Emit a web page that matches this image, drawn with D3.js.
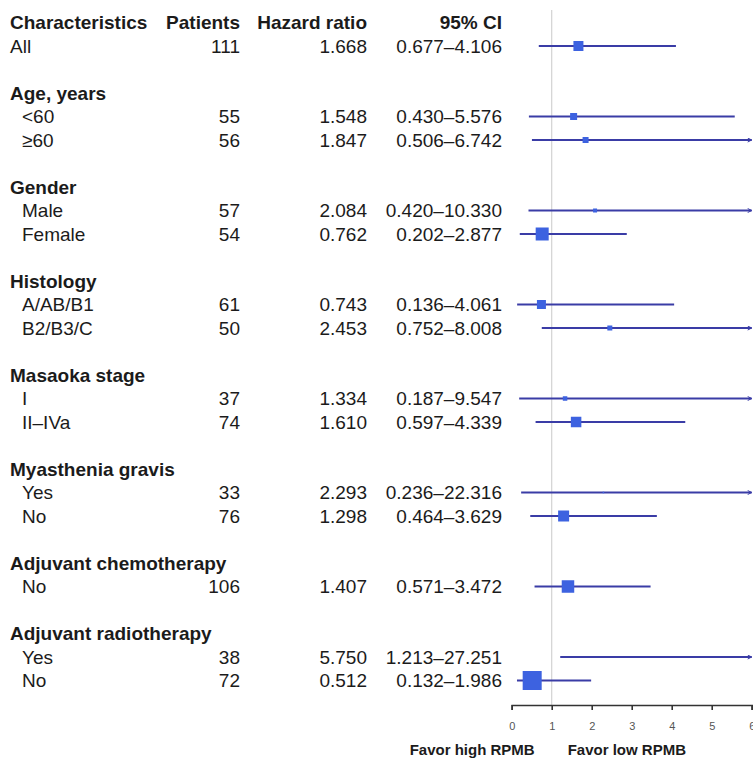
<!DOCTYPE html>
<html>
<head>
<meta charset="utf-8">
<script src="https://cdn.jsdelivr.net/npm/d3@7"></script>
<style>
  body { margin: 0; background: #fff; }
  svg { display: block; font-family: "Liberation Sans", Arial, Helvetica, sans-serif; }
</style>
</head>
<body>
<div id="chart"></div>
<script>
"use strict";

// column headers
const headers = ["Characteristics", "Patients", "Hazard ratio", "95% CI"];

// groups and their subgroups (empty group name = no header line)
const groups = ["", "Age, years", "Gender", "Histology", "Masaoka stage",
  "Myasthenia gravis", "Adjuvant chemotherapy", "Adjuvant radiotherapy"];
const subgroups = [["All"], ["<60", "≥60"], ["Male", "Female"], ["A/AB/B1", "B2/B3/C"],
  ["I", "II–IVa"], ["Yes", "No"], ["No"], ["Yes", "No"]];

// one value per subgroup, in the same order
const patients    = [111, 55, 56, 57, 54, 61, 50, 37, 74, 33, 76, 106, 38, 72];
const hazardRatio = [1.668, 1.548, 1.847, 2.084, 0.762, 0.743, 2.453, 1.334, 1.610, 2.293, 1.298, 1.407, 5.750, 0.512];
const ciLower     = [0.677, 0.430, 0.506, 0.420, 0.202, 0.136, 0.752, 0.187, 0.597, 0.236, 0.464, 0.571, 1.213, 0.132];
const ciUpper     = [4.106, 5.576, 6.742, 10.330, 2.877, 4.061, 8.008, 9.547, 4.339, 22.316, 3.629, 3.472, 27.251, 1.986];
// relative box weight
const weight      = [10, 7, 6, 4, 13, 9, 5, 4.5, 10.5, 1.5, 11, 12.5, 0.3, 19];

const xTicks = [0, 1, 2, 3, 4, 5, 6];
const favorLabels = ["Favor high RPMB", "Favor low RPMB"];

const width = 753, height = 759;
const lineColor = "#3a3ca6", boxColor = "#3d62e0", textColor = "#1b1b1b";

// build row list
let rows = [];
let r = 1, k = 0;
groups.forEach((g, gi) => {
  if (g) rows.push({ type: "group", label: g, row: r++ });
  subgroups[gi].forEach(s => {
    rows.push({
      type: "item", label: s, indent: g !== "", row: r++,
      n: patients[k], hr: hazardRatio[k], lo: ciLower[k], hi: ciUpper[k], w: weight[k]
    });
    k++;
  });
  r++;
});
const nRows = r - 2;

const y = d3.scaleLinear().domain([0, nRows]).range([22.5, 22.5 + nRows * 23.5]);
const x = d3.scaleLinear().domain([0, 6]).range([511.7, 751.7]);
const box = d3.scaleLinear().domain([0, 19]).range([0, 19]);
const axisY = 705;

const svg = d3.select("#chart").append("svg")
  .attr("width", width).attr("height", height);

svg.append("defs").append("marker")
  .attr("id", "arrow")
  .attr("viewBox", "0 -5 10 10")
  .attr("refX", 9).attr("refY", 0)
  .attr("markerWidth", 5).attr("markerHeight", 5)
  .attr("markerUnits", "userSpaceOnUse")
  .attr("orient", "auto")
  .append("path")
  .attr("d", "M1,-4L9,0L1,4")
  .attr("fill", "none")
  .attr("stroke", lineColor)
  .attr("stroke-width", 2);

// reference line at HR = 1
svg.append("line")
  .attr("x1", x(1)).attr("x2", x(1))
  .attr("y1", 10).attr("y2", axisY)
  .attr("stroke", "#d2d2d2").attr("stroke-width", 1.2);

// headers
const colX = [10, 240, 367, 502];
const colAnchor = ["start", "end", "end", "end"];
svg.selectAll(".hdr").data(headers).enter().append("text")
  .attr("class", "hdr")
  .attr("x", (d, i) => colX[i])
  .attr("y", y(0))
  .attr("dy", "0.35em")
  .attr("text-anchor", (d, i) => colAnchor[i])
  .attr("font-size", 19).attr("font-weight", "bold")
  .attr("fill", textColor)
  .text(d => d);

// labels
svg.selectAll(".lbl").data(rows).enter().append("text")
  .attr("class", "lbl")
  .attr("x", d => d.type === "group" ? 10 : (d.indent ? 22 : 10))
  .attr("y", d => y(d.row))
  .attr("dy", "0.35em")
  .attr("font-size", 19)
  .attr("font-weight", d => d.type === "group" ? "bold" : "normal")
  .attr("fill", textColor)
  .text(d => d.label);

const items = rows.filter(d => d.type === "item");

const cols = [
  d => d.n,
  d => d.hr.toFixed(3),
  d => d.lo.toFixed(3) + "–" + d.hi.toFixed(3)
];
cols.forEach((fn, ci) => {
  svg.selectAll(".col" + ci).data(items).enter().append("text")
    .attr("class", "col" + ci)
    .attr("x", colX[ci + 1])
    .attr("y", d => y(d.row))
    .attr("dy", "0.35em")
    .attr("text-anchor", "end")
    .attr("font-size", 19)
    .attr("fill", textColor)
    .text(fn);
});

// CI lines (clipped at axis max with arrow)
const xMax = x.domain()[1];
svg.selectAll(".ci").data(items).enter().append("line")
  .attr("class", "ci")
  .attr("x1", d => x(d.lo))
  .attr("x2", d => x(Math.min(d.hi, xMax)))
  .attr("y1", d => y(d.row)).attr("y2", d => y(d.row))
  .attr("stroke", lineColor).attr("stroke-width", 1.8)
  .attr("marker-end", d => d.hi > xMax ? "url(#arrow)" : null);

// boxes
svg.selectAll(".box").data(items).enter().append("rect")
  .attr("class", "box")
  .attr("x", d => x(d.hr) - box(d.w) / 2)
  .attr("y", d => y(d.row) - box(d.w) / 2)
  .attr("width", d => box(d.w))
  .attr("height", d => box(d.w))
  .attr("fill", boxColor);

// axis
const axis = d3.axisBottom(x).tickValues(xTicks).tickSize(5).tickPadding(12)
  .tickFormat(d3.format("d"));
const gAxis = svg.append("g")
  .attr("transform", `translate(0,${axisY})`)
  .call(axis);
gAxis.select(".domain").attr("stroke", "#333").attr("stroke-width", 1.6);
gAxis.selectAll(".tick line").attr("stroke", "#333").attr("stroke-width", 1.6);
gAxis.selectAll(".tick text")
  .attr("font-size", 11).attr("fill", "#555")
  .attr("font-family", "'Liberation Sans', Arial, sans-serif");

// favor labels
svg.append("text")
  .attr("x", x(1) - 17).attr("y", 750).attr("dy", "0.35em")
  .attr("text-anchor", "end")
  .attr("font-size", 15).attr("font-weight", "bold").attr("fill", textColor)
  .text(favorLabels[0]);
svg.append("text")
  .attr("x", x(1) + 16).attr("y", 750).attr("dy", "0.35em")
  .attr("text-anchor", "start")
  .attr("font-size", 15).attr("font-weight", "bold").attr("fill", textColor)
  .text(favorLabels[1]);
</script>
</body>
</html>
